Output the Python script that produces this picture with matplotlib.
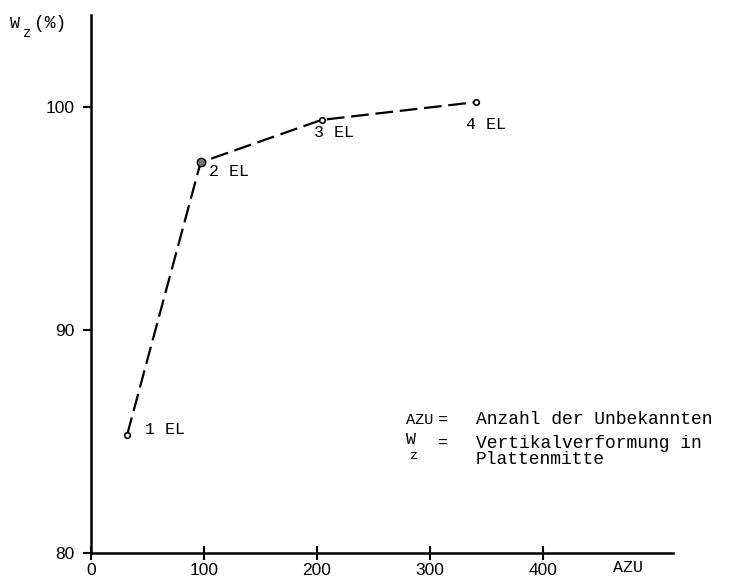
import matplotlib.pyplot as plt
import numpy as np

# data
azu = [32, 97, 204, 341]
wz = [85.3, 97.5, 99.4, 100.2]
point_labels = ['1 EL', '2 EL', '3 EL', '4 EL']
label_offsets = [(18, 5), (8, -9), (-8, -13), (-10, -22)]  # pixels

x_ticks = [0, 100, 200, 300, 400]
y_ticks = [80, 90, 100]

mono = 'Liberation Mono'
sans = 'Liberation Sans'

fig = plt.figure(figsize=(7.37, 5.81), dpi=100)
ax = fig.add_axes([91 / 737, 28 / 581, 582 / 737, 538 / 581])

ax.plot(azu, wz, color='black', lw=1.6, dashes=(8, 3))
ax.plot(azu, wz, 'o', ms=4, mfc='white', mec='black', mew=1.2)
ax.plot(azu[1], wz[1], 'o', ms=6, mfc='#777777', mec='black', mew=1)

for x, y, lab, off in zip(azu, wz, point_labels, label_offsets):
    ax.annotate(lab, (x, y), xytext=off, textcoords='offset pixels',
                ha='left', va='center', fontsize=12, family=mono)

ax.set_xlim(0, 515)
ax.set_ylim(80, 104.1)
ax.spines['top'].set_visible(False)
ax.spines['right'].set_visible(False)
ax.spines['left'].set_linewidth(1.8)
ax.spines['bottom'].set_linewidth(1.8)

ax.set_xticks(x_ticks)
ax.set_yticks(y_ticks)
ax.tick_params(axis='x', direction='inout', length=10, width=1.5, pad=2)
ax.tick_params(axis='y', direction='out', length=6, width=1.5, pad=6)
for t in ax.get_xticklabels() + ax.get_yticklabels():
    t.set_family(sans)
    t.set_fontsize(12.5)

ax.text(475, 80 - 0.3, 'AZU', ha='center', va='top',
        fontsize=12, family=mono, clip_on=False)

# y axis title
fig.text(10 / 737, 1 - 23 / 581, 'W', fontsize=12, family=mono, va='center', ha='left')
fig.text(23 / 737, 1 - 33 / 581, 'z', fontsize=10, family=mono, va='center', ha='left')
fig.text(34 / 737, 1 - 23 / 581, '(%)', fontsize=13, family=mono, va='center', ha='left')

# explanation text
def axf(px, py):
    return (px - 91) / 582, (553 - py) / 538

ax.text(*axf(406, 420), 'AZU', transform=ax.transAxes, fontsize=11, family=mono, va='center')
ax.text(*axf(438, 420), '=', transform=ax.transAxes, fontsize=12, family=mono, va='center')
ax.text(*axf(476, 420), 'Anzahl der Unbekannten', transform=ax.transAxes, fontsize=13,
        family=mono, va='center')
ax.text(*axf(406, 439), 'W', transform=ax.transAxes, fontsize=12, family=mono, va='center')
ax.text(*axf(410, 456), 'z', transform=ax.transAxes, fontsize=9.5, family=mono, va='center')
ax.text(*axf(438, 443), '=', transform=ax.transAxes, fontsize=12, family=mono, va='center')
ax.text(*axf(476, 443), 'Vertikalverformung in', transform=ax.transAxes, fontsize=13,
        family=mono, va='center')
ax.text(*axf(476, 460), 'Plattenmitte', transform=ax.transAxes, fontsize=13,
        family=mono, va='center')

fig.savefig('out.png', dpi=100)
